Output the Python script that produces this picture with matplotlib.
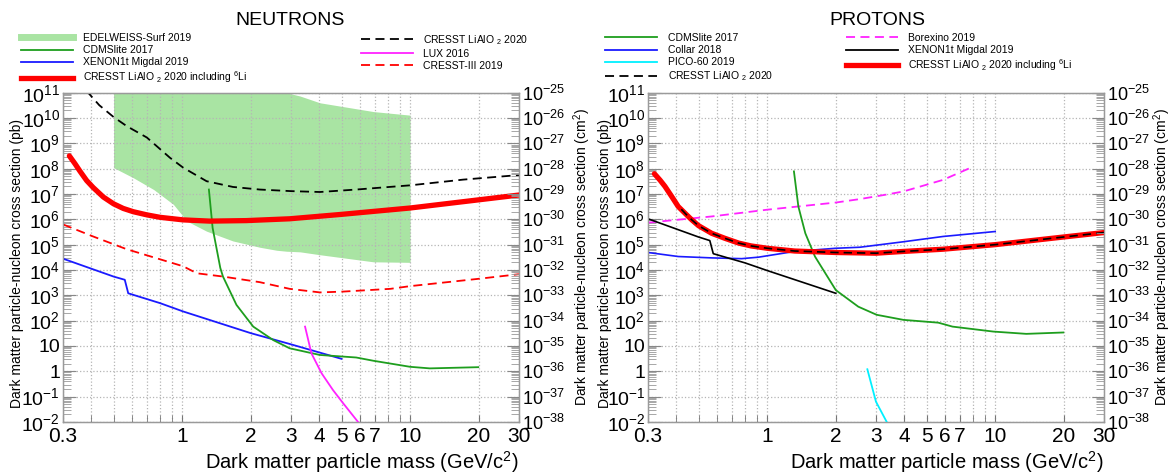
import matplotlib
matplotlib.use("Agg")
import matplotlib.pyplot as plt
import numpy as np
from matplotlib.lines import Line2D
from matplotlib.ticker import FixedLocator, FuncFormatter, LogLocator, NullFormatter

plt.rcParams["font.family"] = ["Liberation Sans", "DejaVu Sans"]
plt.rcParams["mathtext.fontset"] = "custom"
plt.rcParams["mathtext.rm"] = "Liberation Sans"
plt.rcParams["mathtext.it"] = "Liberation Sans:italic"
plt.rcParams["mathtext.bf"] = "Liberation Sans:bold"

PB_TO_CM2 = 1e-36

# ---------------- NEUTRONS (mass in GeV/c^2, cross section in pb) ----------------
edel_mass = [0.5, 0.61, 0.75, 0.915, 1.05, 1.28, 1.67, 2.19, 2.6, 2.87, 3.29, 4.02, 6.9, 10]
edel_upper = [1e11, 1e11, 1e11, 1e11, 1e11, 1e11, 1e11, 1e11, 1e11, 1e11, 7.4e10, 4.0e10, 1.8e10, 1.3e10]
edel_lower = [1.1e8, 4.4e7, 1.5e7, 3.9e6, 8.5e5, 3.4e5, 1.4e5, 7.9e4, 6.0e4, 5.5e4, 5.2e4, 4.0e4, 2.1e4, 2.0e4]

n_cresst_mass = [0.38, 0.433, 0.5, 0.571, 0.70, 0.884, 1.01, 1.28, 1.67, 2.19, 3.0, 4.02, 5.8, 10, 17.1, 30]
n_cresst_xs = [1.2e11, 3.2e10, 1.1e10, 4.8e9, 1.7e9, 2.7e8, 1.1e8, 3.2e7, 1.9e7, 1.5e7, 1.3e7, 1.2e7,
               1.5e7, 2.2e7, 3.7e7, 5.6e7]

n_li6_mass = [0.32, 0.339, 0.356, 0.381, 0.407, 0.451, 0.5, 0.551, 0.61, 0.70, 0.8, 1.01, 1.32, 1.91,
              2.96, 4.92, 10, 30]
n_li6_xs = [3.2e8, 1.55e8, 8.0e7, 3.4e7, 1.8e7, 7.6e6, 4.1e6, 2.7e6, 2.0e6, 1.5e6, 1.2e6, 9.5e5, 8.5e5,
            8.9e5, 1.05e6, 1.55e6, 2.8e6, 9.1e6]

n_c3_mass = [0.3, 0.407, 0.571, 1.01, 1.16, 1.51, 2.19, 2.96, 4.02, 5.08, 8.2, 10, 19.6, 30]
n_c3_xs = [6.3e5, 2.1e5, 6.6e4, 1.4e4, 7.4e3, 5.5e3, 3.3e3, 1.8e3, 1.3e3, 1.4e3, 1.8e3, 2.3e3, 4.4e3, 6.8e3]

n_xe_mass = [0.3, 0.5, 0.56, 0.58, 0.8, 1.01, 2.0, 2.96, 5.0]
n_xe_xs = [2.8e4, 5.5e3, 4.1e3, 1.2e3, 490, 230, 32, 12, 3.1]

n_cdms_mass = [1.31, 1.36, 1.47, 1.51, 1.73, 2.05, 2.51, 2.96, 4.02, 5.8, 6.9, 10, 12.2, 19.9]
n_cdms_xs = [1.5e7, 4.6e5, 1.2e4, 5.5e3, 420, 58, 17, 8.1, 4.4, 3.5, 2.6, 1.5, 1.3, 1.45]

n_lux_mass = [3.46, 3.69, 4.09, 4.59, 5.08, 5.98]
n_lux_xs = [58, 5.1, 0.83, 0.18, 0.055, 8.7e-3]

# ---------------- PROTONS ----------------
p_li6_mass = [0.32, 0.339, 0.356, 0.381, 0.407, 0.44, 0.467, 0.5, 0.571, 0.65, 0.75, 0.85, 1.0, 1.32,
              2.0, 3.0, 3.96, 5.9, 10, 19.9, 30]
p_li6_xs = [6.3e7, 3.5e7, 2.0e7, 8.0e6, 3.2e6, 1.6e6, 9.5e5, 5.6e5, 2.8e5, 1.8e5, 1.15e5, 8.9e4, 7.2e4,
            5.6e4, 4.9e4, 4.6e4, 5.4e4, 6.6e4, 1.0e5, 2.0e5, 3.0e5]

p_cresst_mass = [0.42, 0.44, 0.467, 0.5, 0.571, 0.65, 0.75, 0.85, 1.0, 1.32, 2.0, 3.0, 3.96, 5.9, 10,
                 19.9, 30]
p_cresst_xs = [2.5e6, 1.6e6, 9.5e5, 5.6e5, 2.8e5, 1.8e5, 1.15e5, 8.9e4, 7.2e4, 5.6e4, 4.9e4, 4.6e4,
               5.4e4, 6.6e4, 1.0e5, 2.0e5, 3.0e5]

p_borex_mass = [0.3, 0.571, 1.0, 2.0, 2.55, 3.29, 3.96, 5.9, 8.0]
p_borex_xs = [7.4e5, 1.3e6, 2.4e6, 4.6e6, 6.3e6, 9.3e6, 1.26e7, 3.6e7, 1.2e8]

p_collar_mass = [0.3, 0.407, 0.571, 0.773, 0.915, 1.32, 2.0, 2.55, 3.96, 5.9, 10]
p_collar_xs = [4.9e4, 3.4e4, 3.0e4, 2.8e4, 3.2e4, 5.4e4, 7.2e4, 7.9e4, 1.3e5, 2.1e5, 3.3e5]

p_xe_mass = [0.3, 0.5, 0.56, 0.58, 0.8, 1.0, 2.0]
p_xe_xs = [1.05e6, 2.0e5, 1.45e5, 4.4e4, 1.9e4, 9.5e3, 1.2e3]

p_cdms_mass = [1.31, 1.37, 1.47, 1.62, 2.0, 2.51, 3.02, 3.96, 5.63, 6.5, 9.8, 13.7, 19.9]
p_cdms_xs = [7.8e7, 3.2e6, 2.8e5, 3.4e4, 1.6e3, 355, 170, 107, 83, 58, 37, 30, 34]

p_pico_mass = [2.75, 3.0, 3.34]
p_pico_xs = [1.2, 0.063, 0.0102]

X_TICKS = [0.3, 1, 2, 3, 4, 5, 6, 7, 10, 20, 30]
X_MINOR = [0.4, 0.5, 0.6, 0.7, 0.8, 0.9, 8, 9]

GREEN = "#1e9e1e"
BAND = "#a9e4a3"
BLUE = "#1a1aff"
RED = "#ff0000"
MAGENTA = "#ff22ff"
CYAN = "#00f0ff"
LEG_FS = 7.5
DASH = (0, (5, 3))


def _pb_fmt(v, _):
    n = int(round(np.log10(v)))
    if n == 0:
        return "1"
    if n == 1:
        return "10"
    return r"$10^{%d}$" % n


def _cm_fmt(v, _):
    n = int(round(np.log10(v)))
    return r"$10^{%d}$" % n


def style_axes(ax, left_label_x, right_label_x):
    ax.set_xscale("log")
    ax.set_yscale("log")
    ax.set_xlim(0.3, 30)
    ax.set_ylim(1e-2, 1e11)
    ax.xaxis.set_major_locator(FixedLocator(X_TICKS))
    ax.xaxis.set_minor_locator(FixedLocator(X_MINOR))
    ax.xaxis.set_major_formatter(FuncFormatter(lambda v, _: f"{v:g}"))
    ax.xaxis.set_minor_formatter(NullFormatter())
    ax.yaxis.set_major_locator(LogLocator(base=10, numticks=20))
    ax.yaxis.set_minor_locator(LogLocator(base=10, subs=np.arange(2, 10), numticks=20))
    ax.yaxis.set_major_formatter(FuncFormatter(_pb_fmt))
    ax.yaxis.set_minor_formatter(NullFormatter())
    ax.tick_params(axis="x", which="both", direction="in", length=5, color="#777777",
                   labelsize=15, pad=4)
    ax.tick_params(axis="y", which="major", direction="in", length=9, color="#888888",
                   labelsize=14, pad=2)
    ax.tick_params(axis="y", which="minor", direction="in", length=6, color="#999999")
    ax.grid(which="both", axis="x", color="#b5b5b5", linestyle=":", lw=0.9)
    ax.grid(which="major", axis="y", color="#b5b5b5", linestyle=":", lw=0.9)
    for sp in ax.spines.values():
        sp.set_color("#9a9a9a")
        sp.set_linewidth(1.0)
    ax.set_ylabel("Dark matter particle-nucleon cross section (pb)", fontsize=10)
    ax.yaxis.set_label_coords(left_label_x, 0.48)
    ax.set_xlabel("Dark matter particle mass (GeV/c$^2$)", fontsize=14.5, loc="right")
    ax.xaxis.set_label_coords(1.0, -0.082)

    ax2 = ax.twinx()
    ax2.set_yscale("log")
    ax2.set_ylim(1e-2 * PB_TO_CM2, 1e11 * PB_TO_CM2)
    ax2.yaxis.set_major_locator(LogLocator(base=10, numticks=20))
    ax2.yaxis.set_minor_locator(LogLocator(base=10, subs=np.arange(2, 10), numticks=20))
    ax2.yaxis.set_major_formatter(FuncFormatter(_cm_fmt))
    ax2.yaxis.set_minor_formatter(NullFormatter())
    ax2.tick_params(axis="y", which="major", direction="in", length=9, color="#888888",
                    labelsize=13, pad=2)
    ax2.tick_params(axis="y", which="minor", direction="in", length=6, color="#999999")
    for sp in ax2.spines.values():
        sp.set_color("#9a9a9a")
    ax2.set_ylabel("Dark matter particle-nucleon cross section (cm$^2$)", fontsize=10)
    ax2.yaxis.set_label_coords(right_label_x, 0.5)
    return ax2


fig = plt.figure(figsize=(11.75, 4.73), dpi=100)
ax_n = fig.add_axes([0.0536, 0.108, 0.388, 0.696])
ax_p = fig.add_axes([0.5515, 0.108, 0.388, 0.696])
style_axes(ax_n, -0.086, 1.115)
style_axes(ax_p, -0.078, 1.105)

# ---- neutrons ----
ax_n.fill_between(edel_mass, edel_lower, edel_upper, color=BAND, lw=0, zorder=1)
ax_n.plot(n_cresst_mass, n_cresst_xs, color="black", lw=1.3, ls=DASH, zorder=3)
ax_n.plot(n_c3_mass, n_c3_xs, color=RED, lw=1.3, ls=DASH, zorder=3)
ax_n.plot(n_xe_mass, n_xe_xs, color=BLUE, lw=1.3, zorder=3)
ax_n.plot(n_cdms_mass, n_cdms_xs, color=GREEN, lw=1.3, zorder=3)
ax_n.plot(n_lux_mass, n_lux_xs, color=MAGENTA, lw=1.3, zorder=3)
ax_n.plot(n_li6_mass, n_li6_xs, color=RED, lw=3.8, zorder=4, solid_capstyle="round",
          solid_joinstyle="round")

# ---- protons ----
ax_p.plot(p_borex_mass, p_borex_xs, color=MAGENTA, lw=1.3, ls=DASH, zorder=3)
ax_p.plot(p_collar_mass, p_collar_xs, color=BLUE, lw=1.2, zorder=3)
ax_p.plot(p_xe_mass, p_xe_xs, color="black", lw=1.2, zorder=3)
ax_p.plot(p_cdms_mass, p_cdms_xs, color=GREEN, lw=1.3, zorder=3)
ax_p.plot(p_pico_mass, p_pico_xs, color=CYAN, lw=1.3, zorder=3)
ax_p.plot(p_li6_mass, p_li6_xs, color=RED, lw=3.8, zorder=4, solid_capstyle="round",
          solid_joinstyle="round")
ax_p.plot(p_cresst_mass, p_cresst_xs, color="black", lw=1.2, ls=DASH, zorder=5)

# ---- titles ----
fig.text(0.247, 0.956, "NEUTRONS", ha="center", va="center", fontsize=14)
fig.text(0.747, 0.956, "PROTONS", ha="center", va="center", fontsize=14)

LI6 = r"CRESST LiAlO $_2$ 2020 including $^6$Li"
CR = r"CRESST LiAlO $_2$ 2020"


def h(color, lw=1.3, ls="-"):
    return Line2D([], [], color=color, lw=lw, ls=ls)


def add_legend(handles, labels, x, y):
    return fig.legend(handles, labels, loc="upper left", bbox_to_anchor=(x, y),
                      bbox_transform=fig.transFigure, frameon=False, fontsize=LEG_FS,
                      handlelength=5.0, handletextpad=1.0, labelspacing=0.2,
                      borderpad=0, borderaxespad=0)


add_legend([h(BAND, 5), h(GREEN), h(BLUE), h(RED, 3.8)],
           ["EDELWEISS-Surf 2019", "CDMSlite 2017", "XENON1t Migdal 2019", LI6],
           0.0176, 0.93)
add_legend([h("black", 1.3, DASH), h(MAGENTA), h(RED, 1.3, DASH)],
           [CR, "LUX 2016", "CRESST-III 2019"], 0.307, 0.93)
add_legend([h(GREEN), h(BLUE), h(CYAN), h("black", 1.3, DASH)],
           ["CDMSlite 2017", "Collar 2018", "PICO-60 2019", CR], 0.515, 0.93)
add_legend([h(MAGENTA, 1.3, DASH), h("black"), h(RED, 3.8)],
           ["Borexino 2019", "XENON1t Migdal 2019", LI6], 0.72, 0.93)

fig.savefig("out.png", dpi=100)
